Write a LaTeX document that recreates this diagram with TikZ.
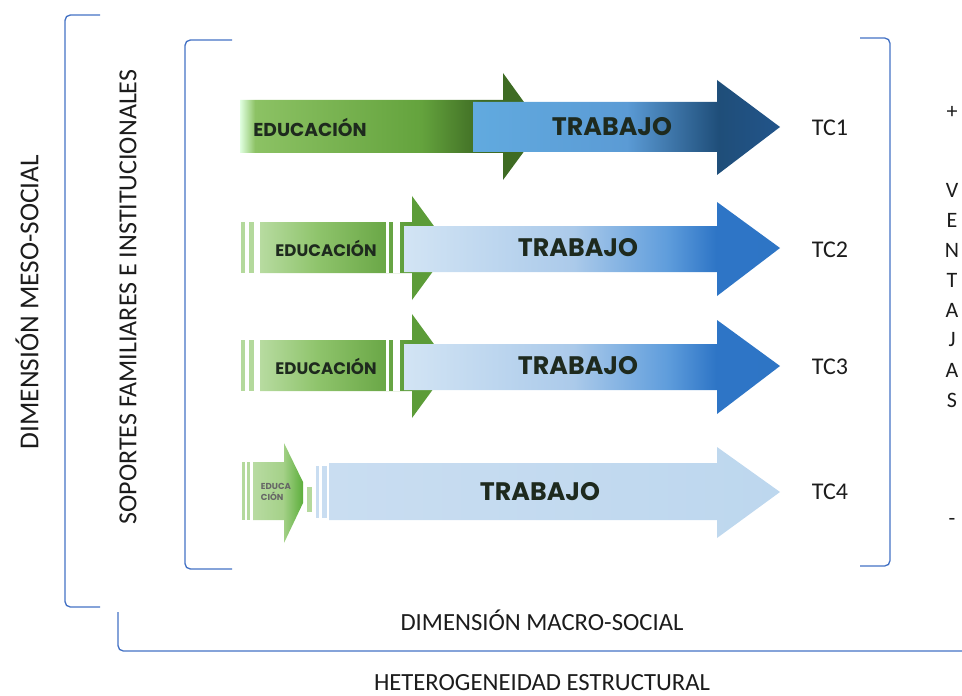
\documentclass[tikz,border=0pt]{standalone}
\usepackage{fontspec}
\setmainfont{Carlito}
\newfontfamily\arrowfont{Poppins}
\usetikzlibrary{positioning}

\definecolor{bracketblue}{HTML}{4472C4}
\definecolor{labelgray}{HTML}{1C1C1C}
\definecolor{arrowtext}{HTML}{1E2A1E}
\definecolor{stripegreen}{HTML}{B4D99C}
\definecolor{stripeblue}{HTML}{C9DDF1}
\definecolor{paleblue}{HTML}{BDD7EE}

\pgfdeclarehorizontalshading{eduone}{100bp}{color(0bp)=(white!70!green!40); color(25bp)=(white!70!green!40);
  color(27.5bp)=(rgb,255:red,140;green,194;blue,100); color(55bp)=(rgb,255:red,100;green,163;blue,61);
  color(65bp)=(rgb,255:red,62;green,107;blue,35); color(100bp)=(rgb,255:red,62;green,107;blue,35)}
\pgfdeclarehorizontalshading{jobone}{100bp}{color(0bp)=(rgb,255:red,97;green,170;blue,223); color(25bp)=(rgb,255:red,97;green,170;blue,223);
  color(50bp)=(rgb,255:red,91;green,155;blue,213); color(65bp)=(rgb,255:red,31;green,78;blue,121);
  color(75bp)=(rgb,255:red,34;green,84;blue,138); color(100bp)=(rgb,255:red,34;green,84;blue,138)}
\pgfdeclarehorizontalshading{edumid}{100bp}{color(0bp)=(rgb,255:red,183;green,219;blue,160); color(25bp)=(rgb,255:red,183;green,219;blue,160);
  color(40bp)=(rgb,255:red,143;green,196;blue,108); color(65bp)=(rgb,255:red,92;green,156;blue,56);
  color(100bp)=(rgb,255:red,91;green,155;blue,54)}
\pgfdeclarehorizontalshading{jobmid}{100bp}{color(0bp)=(rgb,255:red,210;green,228;blue,244); color(25bp)=(rgb,255:red,210;green,228;blue,244);
  color(47.5bp)=(rgb,255:red,171;green,202;blue,234); color(60bp)=(rgb,255:red,95;green,157;blue,220);
  color(66.5bp)=(rgb,255:red,46;green,117;blue,198); color(100bp)=(rgb,255:red,47;green,116;blue,195)}
\pgfdeclarehorizontalshading{edulow}{100bp}{color(0bp)=(rgb,255:red,184;green,219;blue,162); color(25bp)=(rgb,255:red,184;green,219;blue,162);
  color(55bp)=(rgb,255:red,165;green,209;blue,137); color(75bp)=(rgb,255:red,92;green,174;blue,59);
  color(100bp)=(rgb,255:red,92;green,174;blue,59)}

\begin{document}
\begin{tikzpicture}[x=0.75pt, y=-0.75pt,
    bracket/.style={draw=bracketblue, line width=1pt, rounded corners=4pt},
    dimlabel/.style={font=\fontsize{18.5}{20}\selectfont, text=labelgray},
    tclabel/.style={font=\fontsize{18}{20}\selectfont, text=labelgray},
    sidelabel/.style={font=\fontsize{16.5}{18}\selectfont, text=labelgray},
    joblabel/.style={font=\arrowfont\bfseries\fontsize{19}{20}\selectfont, text=arrowtext},
    edulabel/.style={font=\arrowfont\bfseries\fontsize{12.5}{14}\selectfont, text=arrowtext},
    gap/.style={fill=white, draw=none}
  ]
  \useasboundingbox (0,0) rectangle (962,695);

  \draw[bracket] (100,15) -- (65,15) -- (65,607) -- (100,607);
  \draw[bracket] (232,40) -- (185,40) -- (185,569) -- (232,569);
  \draw[bracket] (860,38) -- (890,38) -- (890,566) -- (860,566);
  \draw[bracket] (118,612) -- (118,651) -- (962,651);

  \shade[shading=eduone] (240,100) -- (503,100) -- (503,73) -- (542,127) -- (503,180) -- (503,153) -- (240,153) -- cycle;
  \shade[shading=jobone] (473,102) -- (717,102) -- (717,80) -- (780,127) -- (717,175) -- (717,152) -- (473,152) -- cycle;

  \foreach \yc in {248,366} {
    \fill[stripegreen] (241,\yc-26) rectangle (245,\yc+25);
    \fill[stripegreen] (249,\yc-26) rectangle (254,\yc+25);
    \shade[shading=edumid] (260,\yc-26) -- (412,\yc-26) -- (412,\yc-52) -- (450,\yc) -- (412,\yc+52) -- (412,\yc+25) -- (260,\yc+25) -- cycle;
    \fill[gap] (386,\yc-26) rectangle (389,\yc+25);
    \fill[gap] (393,\yc-26) rectangle (400,\yc+25);
    \shade[shading=jobmid] (404,\yc-22) -- (717,\yc-22) -- (717,\yc-46) -- (780,\yc) -- (717,\yc+48) -- (717,\yc+24) -- (404,\yc+24) -- cycle;
  }

  \fill[stripegreen] (242,462) rectangle (245,520);
  \fill[stripegreen] (247,462) rectangle (250,520);
  \shade[shading=edulow] (253,462) -- (284,462) -- (284,443) -- (303,482) -- (303,503) -- (284,543) -- (284,520) -- (253,520) -- cycle;
  \fill[stripegreen] (307,487) rectangle (312,512);
  \fill[stripeblue] (316,466) rectangle (319,518);
  \fill[stripeblue] (322,466) rectangle (327,518);
  \shade[left color=stripeblue, right color=paleblue] (329,463) -- (717,463) -- (717,447) -- (780,492) -- (717,538) -- (717,520) -- (329,520) -- cycle;

  \node[edulabel, font=\arrowfont\bfseries\fontsize{14}{16}\selectfont] (edu1) at (310,127) {EDUCACIÓN};
  \node[joblabel] (job1) at (612,127) {TRABAJO};
  \node[edulabel] (edu2) at (326,248) {EDUCACIÓN};
  \node[joblabel] (job2) at (578,248) {TRABAJO};
  \node[edulabel] (edu3) at (326,366) {EDUCACIÓN};
  \node[joblabel] (job3) at (578,366) {TRABAJO};
  \node[font=\arrowfont\bfseries\fontsize{6.5}{8.5}\selectfont, text=gray!80!black, align=left, inner sep=0pt] (edu4) at (276,492) {EDUCA\\CIÓN};
  \node[joblabel] (job4) at (540,492) {TRABAJO};

  \node[tclabel] (tc1) at (830,128) {TC1};
  \node[tclabel] (tc2) at (830,250) {TC2};
  \node[tclabel] (tc3) at (830,367) {TC3};
  \node[tclabel] (tc4) at (830,492) {TC4};

  \node[sidelabel] (plus) at (952,112) {+};
  \foreach \l [count=\i] in {V,E,N,T,A,J,A,S}
    \node[sidelabel] (v\i) at (952,160+30*\i) {\l};
  \node[sidelabel] (minus) at (952,522) {-};

  \node[dimlabel, rotate=90, font=\fontsize{20.5}{22}\selectfont] (meso) at (27,302) {DIMENSIÓN MESO-SOCIAL};
  \node[dimlabel, rotate=90, font=\fontsize{19.5}{21}\selectfont] (soportes) at (128,297) {SOPORTES FAMILIARES E INSTITUCIONALES};
  \node[dimlabel, anchor=base] (macro) at (542,630) {DIMENSIÓN MACRO-SOCIAL};
  \node[dimlabel, anchor=base, inner sep=1pt] (hetero) at (542,690) {HETEROGENEIDAD ESTRUCTURAL};
\end{tikzpicture}
\end{document}
